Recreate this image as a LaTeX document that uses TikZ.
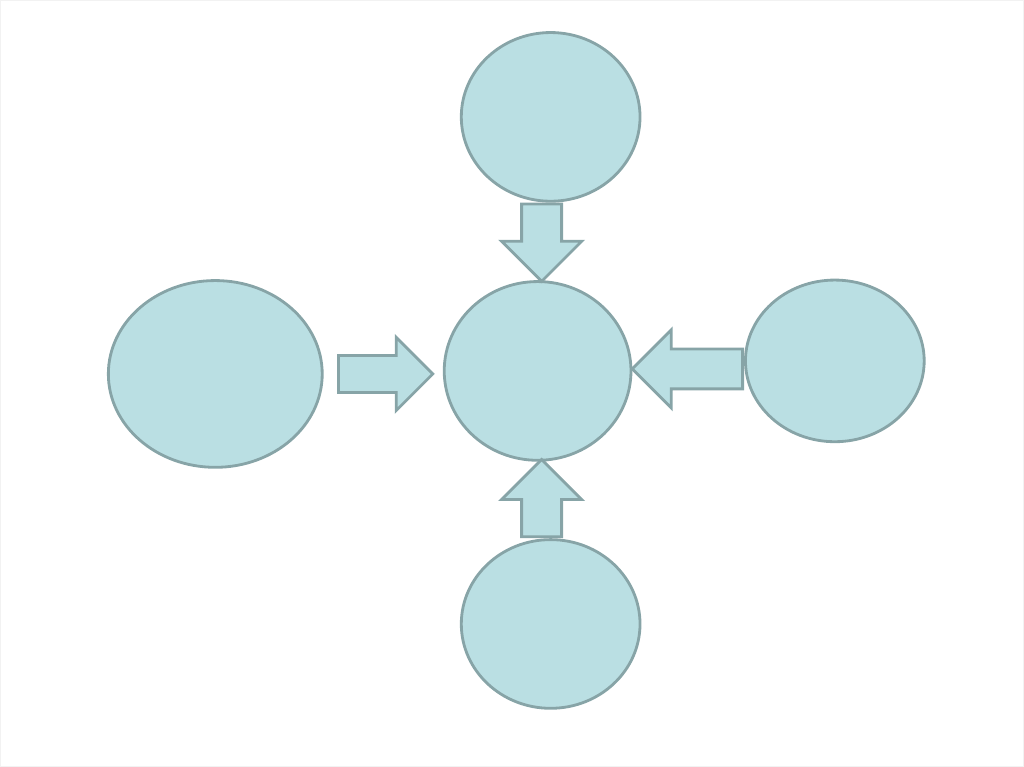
\documentclass[tikz,border=0pt]{standalone}
\usepackage{xcolor}
\usepackage{tikz}
\usetikzlibrary{positioning,shapes.geometric,shapes.arrows,calc}
\definecolor{bubfill}{HTML}{BADFE3}
\definecolor{bubline}{HTML}{87A4A7}
\tikzset{
  bub/.style={draw=bubline, fill=bubfill, ellipse, line width=2.8pt, inner sep=0pt},
  blk/.style={draw=bubline, fill=bubfill, single arrow, line width=2.8pt, inner sep=0pt,
    text height=#1, text depth=0pt},
  blk/.default=37pt
}

\begin{document}
\begin{tikzpicture}[x=1pt, y=-1pt]
  \useasboundingbox[draw=black!5, line width=0.8pt] (2,2) rectangle (1021,765);

  % the five bubbles
  \node[bub, minimum width=186pt, minimum height=178pt] (hub) at (537,371) {};
  \node[bub, minimum width=178pt, minimum height=168pt] (top) at (550,118) {};
  \node[bub, minimum width=178pt, minimum height=168pt] (bot) at (550,623) {};
  \node[bub, minimum width=213pt, minimum height=186pt] (lft) at (216,374) {};
  \node[bub, minimum width=178pt, minimum height=161pt] (rgt) at (833,361) {};

  % block arrows into the hub
  \node[blk, single arrow head extend=20pt, minimum height=77pt, rotate=-90, anchor=tail]
    (a1) at ($(top.south)+(-9,0)$) {};
  \node[blk, single arrow head extend=20pt, minimum height=77pt, rotate=90, anchor=tail]
    (a2) at ($(bot.north)+(-9,0)$) {};
  \node[blk=34pt, single arrow head extend=18pt, minimum height=94pt, anchor=tip]
    (a3) at ($(hub.west)+(-8,3)$) {};
  \node[blk, single arrow head extend=19pt, minimum height=110pt, rotate=180, anchor=tail]
    (a4) at ($(rgt.west)+(0,8)$) {};
\end{tikzpicture}
\end{document}
